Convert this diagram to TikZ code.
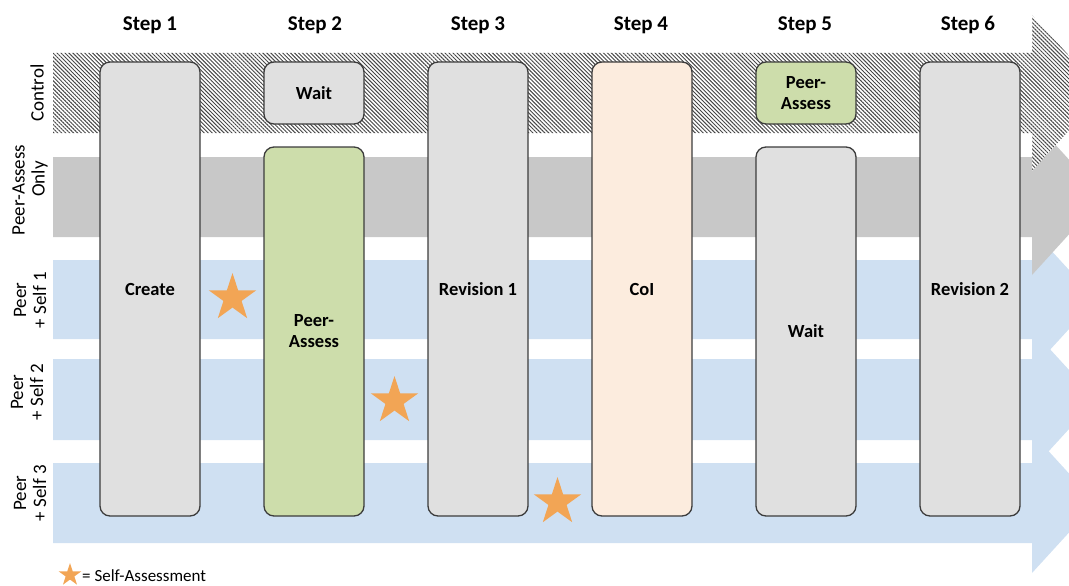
\documentclass[tikz,border=0pt]{standalone}
\usepackage{fontspec}
\setmainfont{Carlito}
\usetikzlibrary{patterns.meta,shapes.geometric}
\definecolor{bandgray}{RGB}{200,200,200}
\definecolor{bandblue}{RGB}{207,224,242}
\definecolor{boxgray}{RGB}{224,224,224}
\definecolor{boxgreen}{RGB}{205,221,171}
\definecolor{boxpeach}{RGB}{252,236,222}
\definecolor{starorange}{RGB}{242,165,85}
\definecolor{edgegray}{RGB}{60,60,60}
\definecolor{hatchgray}{RGB}{70,70,70}
\begin{document}
\begin{tikzpicture}[x=1pt,y=-1pt,
  stagebox/.style={draw=edgegray, line width=1.3pt, rounded corners=10pt, minimum width=100pt, inner sep=0pt, align=center, font=\fontsize{18.5}{21}\selectfont\bfseries},
  steplabel/.style={font=\fontsize{21}{25}\selectfont\bfseries, anchor=base},
  rowlabel/.style={rotate=90, align=center, inner sep=0pt, font=\fontsize{19}{20}\selectfont},
  selfstar/.style={star, star points=5, star point ratio=2.618, fill=starorange, inner sep=0pt, minimum size=50pt},
  hatchband/.style={preaction={fill=white}, pattern={Lines[angle=-45,distance=2.8pt,line width=0.95pt]}, pattern color=hatchgray},
]
\useasboundingbox (0,0) rectangle (1069,586);

% bands (lower ones first)
\fill[bandblue] (53,463) -- (1032,463) -- (1032,433) -- (1096,503) -- (1032,573) -- (1032,543) -- (53,543) -- cycle;
\fill[bandblue] (53,359) -- (1032,359) -- (1032,329.5) -- (1096,399.5) -- (1032,469.5) -- (1032,440) -- (53,440) -- cycle;
\fill[bandblue] (53,260) -- (1032,260) -- (1032,229.5) -- (1096,299.5) -- (1032,369.5) -- (1032,339) -- (53,339) -- cycle;
\fill[bandgray] (53,157) -- (1032,157) -- (1032,119) -- (1103,197) -- (1032,275) -- (1032,237) -- (53,237) -- cycle;
\path[hatchband] (53,53) -- (1032,53) -- (1032,15) -- (1103,93) -- (1032,171) -- (1032,133) -- (53,133) -- cycle;

% step labels
\node[steplabel] (s1) at (150,31) {Step 1};
\node[steplabel] (s2) at (315,31) {Step 2};
\node[steplabel] (s3) at (478,31) {Step 3};
\node[steplabel] (s4) at (641,31) {Step 4};
\node[steplabel] (s5) at (805,31) {Step 5};
\node[steplabel] (s6) at (968,31) {Step 6};

% row labels
\node[rowlabel] (rc) at (37,93) {Control};
\node[rowlabel] (rp) at (30,190) {Peer-Assess\\\hspace*{22pt}Only};
\node[rowlabel] (r1) at (30,300) {Peer\\+ Self 1};
\node[rowlabel] (r2) at (27,392) {Peer\\+ Self 2};
\node[rowlabel] (r3) at (30,493) {Peer\\+ Self 3};

% stage boxes
\node[stagebox, fill=boxgray, minimum height=454pt] (create) at (150,289) {Create};
\node[stagebox, fill=boxgray, minimum height=62pt] (wait1) at (314,93) {Wait};
\node[stagebox, fill=boxgreen, minimum height=369pt] (pa1) at (314,331.5) {Peer-\\Assess};
\node[stagebox, fill=boxgray, minimum height=454pt] (rev1) at (478,289) {Revision 1};
\node[stagebox, fill=boxpeach, minimum height=454pt] (coi) at (642,289) {CoI};
\node[stagebox, fill=boxgreen, minimum height=62pt] (pa2) at (806,93) {Peer-\\Assess};
\node[stagebox, fill=boxgray, minimum height=369pt] (wait2) at (806,331.5) {Wait};
\node[stagebox, fill=boxgray, minimum height=454pt] (rev2) at (970,289) {Revision 2};

% self-assessment stars
\node[selfstar] (st1) at (232.5,298) {};
\node[selfstar] (st2) at (394.5,401) {};
\node[selfstar] (st3) at (557.5,502) {};

% legend
\node[selfstar, minimum size=24pt] (lst) at (70,575) {};
\node[anchor=west, inner sep=0pt, font=\fontsize{17}{20}\selectfont] (ltxt) at (82,576) {= Self-Assessment};
\end{tikzpicture}
\end{document}
